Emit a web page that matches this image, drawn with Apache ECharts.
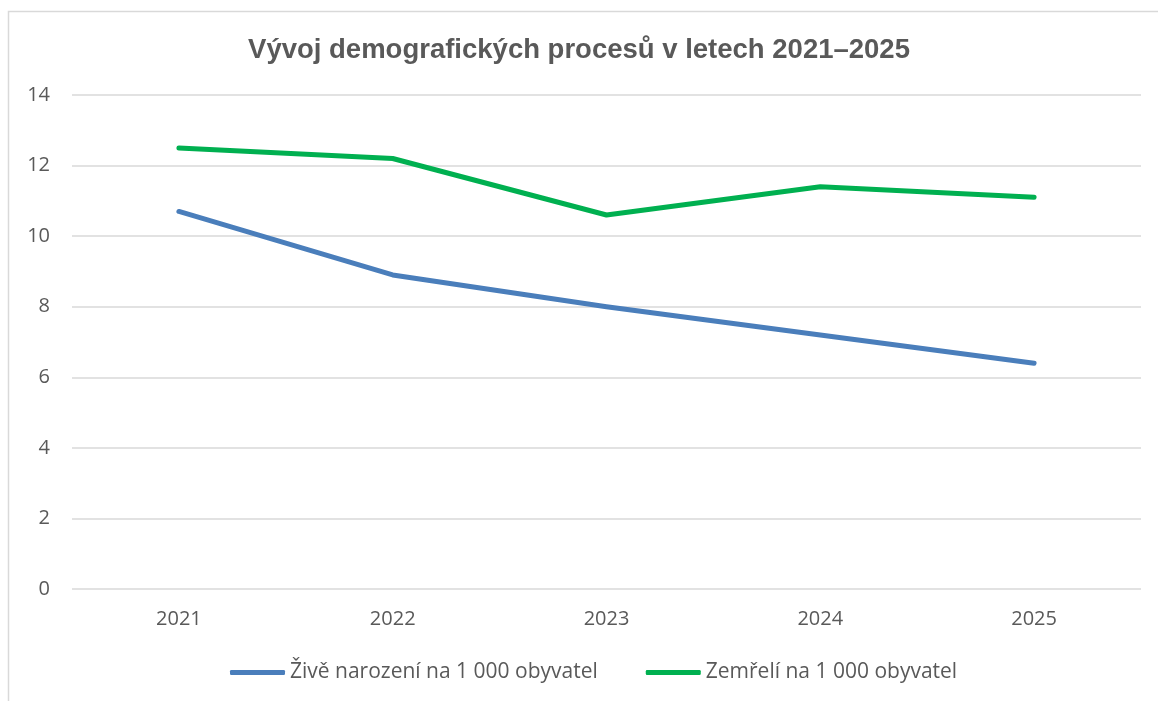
<!DOCTYPE html>
<html>
<head>
<meta charset="utf-8">
<script src="https://cdn.jsdelivr.net/npm/echarts@6/dist/echarts.min.js"></script>
<style>
html, body { margin: 0; padding: 0; background: #fff; }
#chart { width: 1158px; height: 701px; }
</style>
</head>
<body>
<div id="chart"></div>
<script>
var years = ['2021', '2022', '2023', '2024', '2025'];
var narozeni = [10.7, 8.9, 8.0, 7.2, 6.4];
var zemreli = [12.5, 12.2, 10.6, 11.4, 11.1];
var yTicks = { min: 0, max: 14, interval: 2 };

var myChart = echarts.init(document.getElementById('chart'));
var option = {
	backgroundColor: '#fff',
	textStyle: { fontFamily: 'Open Sans' },
	graphic: [{
		type: 'rect',
		shape: { x: 8.5, y: 11.5, width: 1300, height: 900 },
		style: { fill: 'none', stroke: '#d9d9d9', lineWidth: 1.5 },
		silent: true
	}],
	title: {
		text: 'Vývoj demografických procesů v letech 2021–2025',
		left: 'center',
		top: 31,
		textStyle: {
			fontFamily: 'Liberation Sans',
			fontWeight: 'bold',
			fontSize: 27.5,
			color: '#595959'
		}
	},
	legend: {
		bottom: 13,
		left: 225,
		icon: 'roundRect',
		itemWidth: 55,
		itemHeight: 5,
		itemGap: 48,
		textStyle: { fontSize: 21, color: '#595959', fontFamily: 'Open Sans' },
		data: ['Živě narození na 1 000 obyvatel', 'Zemřelí na 1 000 obyvatel']
	},
	grid: {
		left: 72,
		right: 17,
		top: 95,
		bottom: 112
	},
	xAxis: {
		type: 'category',
		data: years,
		boundaryGap: true,
		axisLine: { show: false },
		axisTick: { show: false },
		axisLabel: { color: '#595959', fontSize: 20, margin: 20 }
	},
	yAxis: {
		type: 'value',
		min: yTicks.min,
		max: yTicks.max,
		interval: yTicks.interval,
		axisLine: { show: false },
		axisTick: { show: false },
		axisLabel: { color: '#595959', fontSize: 20, margin: 22 },
		splitLine: { lineStyle: { color: '#d9d9d9', width: 1.5 } }
	},
	series: [{
		name: 'Živě narození na 1 000 obyvatel',
		type: 'line',
		data: narozeni,
		showSymbol: false,
		symbol: 'none',
		color: '#4a7ebb',
		lineStyle: { width: 5, color: '#4a7ebb', cap: 'round', join: 'round' }
	}, {
		name: 'Zemřelí na 1 000 obyvatel',
		type: 'line',
		data: zemreli,
		showSymbol: false,
		symbol: 'none',
		color: '#00b050',
		lineStyle: { width: 5, color: '#00b050', cap: 'round', join: 'round' }
	}]
};
myChart.setOption(option);
</script>
</body>
</html>
